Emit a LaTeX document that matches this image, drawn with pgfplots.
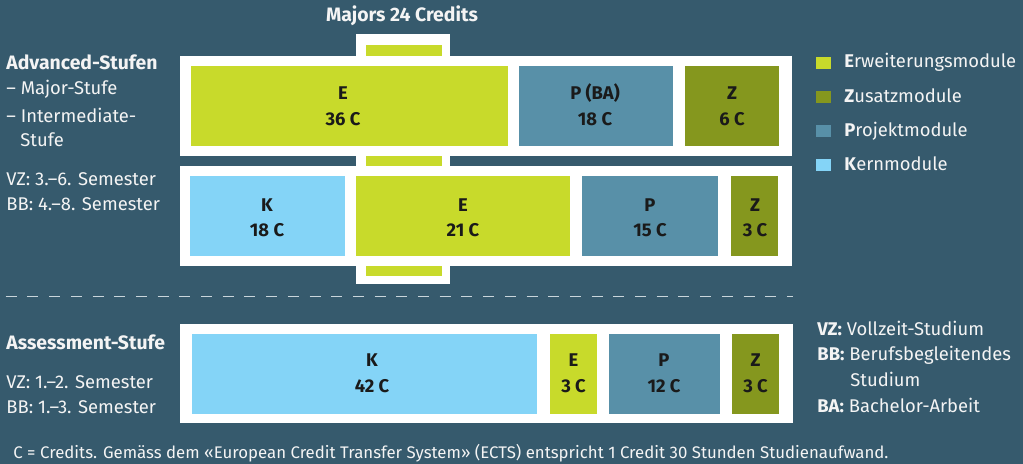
\documentclass[border=0pt]{standalone}
\usepackage{pgfplots}
\pgfplotsset{compat=1.18}
\usepackage{fontspec}
\setmainfont{Fira Sans}
\definecolor{bg}{HTML}{365A6D}
\definecolor{lime}{HTML}{C8DA2B}
\definecolor{olive}{HTML}{85971E}
\definecolor{proj}{HTML}{5890A8}
\definecolor{kern}{HTML}{84D4F7}
\definecolor{ink}{HTML}{1A1A1A}
\definecolor{txt}{HTML}{F4F4F4}
\definecolor{dashcol}{HTML}{C9D5DB}
\tikzset{
  lbl/.style={anchor=base, text=ink, font=\bfseries\fontsize{9.2}{11}\selectfont, inner sep=0pt},
  tx/.style={anchor=base west, text=txt, font=\fontsize{9.2}{11}\selectfont, inner sep=0pt},
  hd/.style={anchor=base west, text=txt, font=\bfseries\fontsize{9.7}{11}\selectfont, inner sep=0pt}}
\newcommand\rect[5]{\addplot[fill=#1,draw=none,mark=none,forget plot] coordinates {(#2,#3) (#4,#3) (#4,#5) (#2,#5)} --cycle;}
\newcommand\lab[5]{\node[lbl] at (#1,#2) {#4}; \node[lbl] at (#1,#3) {#5};}
\begin{document}
\begin{tikzpicture}
\begin{axis}[width=511.5pt, height=232pt, scale only axis,
  xmin=0, xmax=1023, ymin=0, ymax=464, y dir=reverse,
  axis lines=none, ticks=none, clip=false]
% background
\rect{bg}{0}{0}{1023}{464}
% connectors (white)
\rect{white}{356}{34}{450}{284}
% frames
\rect{white}{180}{56}{792}{156}
\rect{white}{180}{166}{792}{266}
\rect{white}{180}{324}{793}{423}
% connector gaps restore background
\rect{bg}{180}{156}{356}{166}
\rect{bg}{450}{156}{792}{166}
% lime connectors
\rect{lime}{366}{45}{442}{56}
\rect{lime}{366}{156}{442}{166}
\rect{lime}{366}{266}{442}{276}
% Major-Stufe
\rect{lime}{191}{66}{508}{146}
\rect{proj}{519}{66}{673}{146}
\rect{olive}{685}{66}{779}{146}
% Intermediate-Stufe
\rect{kern}{190}{176}{345}{256}
\rect{lime}{356}{176}{570}{256}
\rect{proj}{582}{176}{718}{256}
\rect{olive}{731}{176}{778}{256}
% Assessment-Stufe
\rect{kern}{192}{334}{537}{414}
\rect{lime}{550}{334}{597}{414}
\rect{proj}{609}{334}{720}{414}
\rect{olive}{732}{334}{779}{414}
% dashed separator
\addplot[color=dashcol, line width=0.65pt, dash pattern=on 5.5pt off 5.35pt, forget plot] coordinates {(5.7,296.7) (793,296.7)};
% legend squares
\rect{lime}{816}{57}{831}{69}
\rect{olive}{816}{91}{831}{103}
\rect{proj}{816}{125}{831}{137}
\rect{kern}{816}{159}{831}{171}
% box labels
\lab{343}{100}{126}{E}{36 C}
\lab{595}{100}{126}{P (BA)}{18 C}
\lab{732}{100}{126}{Z}{6 C}
\lab{267}{211.5}{237}{K}{18 C}
\lab{463}{211.5}{237}{E}{21 C}
\lab{650}{211.5}{237}{P}{15 C}
\lab{755}{211.5}{237}{Z}{3 C}
\lab{372}{367}{392.5}{K}{42 C}
\lab{573.5}{367}{392.5}{E}{3 C}
\lab{664}{367}{392.5}{P}{12 C}
\lab{755.5}{367}{392.5}{Z}{3 C}
% title
\node[hd, anchor=base] at (402,21.7) {Majors 24 Credits};
% left texts
\node[hd] at (6,69.3) {Advanced-Stufen};
\node[tx] at (6,94.3) {– Major-Stufe};
\node[tx] at (6,122.3) {– Intermediate-};
\node[tx] at (20,146.7) {Stufe};
\node[tx] at (6,186) {VZ: 3.–6. Semester};
\node[tx] at (6,210.7) {BB: 4.–8. Semester};
\node[hd] at (6,349.3) {Assessment-Stufe};
\node[tx] at (6,388.3) {VZ: 1.–2. Semester};
\node[tx] at (6,413.3) {BB: 1.–3. Semester};
% legend texts
\node[tx] at (844,68) {\textbf{E}rweiterungsmodule};
\node[tx] at (844,102.7) {\textbf{Z}usatzmodule};
\node[tx] at (844,136.7) {\textbf{P}rojektmodule};
\node[tx] at (844,170.7) {\textbf{K}ernmodule};
% right glossary
\node[tx] at (817,335.7) {\textbf{VZ:} Vollzeit-Studium};
\node[tx] at (817,361) {\textbf{BB:} Berufsbegleitendes};
\node[tx] at (850,386.7) {Studium};
\node[tx] at (817,412.3) {\textbf{BA:} Bachelor-Arbeit};
% footer
\node[tx, font=\fontsize{8.4}{10}\selectfont] at (13,459) {C = Credits. Gemäss dem «European Credit Transfer System» (ECTS) entspricht 1 Credit 30 Stunden Studienaufwand.};
\end{axis}
\end{tikzpicture}
\end{document}
